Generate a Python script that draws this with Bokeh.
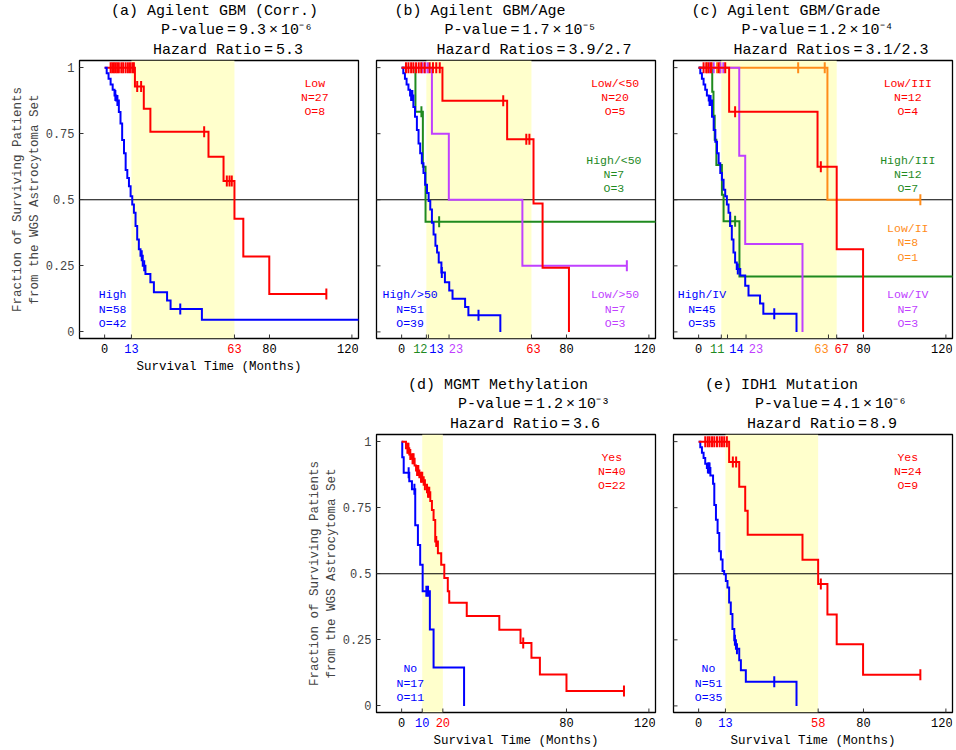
import math
from bokeh.plotting import figure
from bokeh.models import Range1d, FixedTicker, BoxAnnotation, Span, Title, Spacer
from bokeh.layouts import row, column
from bokeh.core.properties import value
from bokeh.embed import file_html
from bokeh.resources import INLINE

FONT = "Liberation Mono"
RED, BLUE, GREEN, PURPLE, ORANGE = "#FF0000", "#0000FF", "#1F8A1F", "#C040FF", "#FF8C1A"
SHADE = "#FFFFCC"

# ---------------- data (months, survival fraction) ----------------
# (a) Agilent GBM (Corr.)
a_high_t = [1.0, 1.9, 2.9, 3.9, 4.8, 5.6, 6.9, 7.7, 8.5, 9.4, 10.2, 11.0, 11.8, 12.6, 13.4, 14.2,
            15.0, 15.8, 16.6, 17.4, 18.5, 19.8, 22.2, 23.9, 30.3, 32.0, 47.2]
a_high_s = [0.979, 0.958, 0.936, 0.916, 0.895, 0.876, 0.832, 0.789, 0.726, 0.676, 0.613, 0.582, 0.551,
            0.513, 0.482, 0.451, 0.401, 0.350, 0.313, 0.288, 0.250, 0.219, 0.188, 0.150, 0.119, 0.087, 0.046]
a_high_cens = [5.2, 6.2, 18.0, 19.2, 36.7]
a_high_end = 126.0
a_low_t = [14.7, 19.0, 22.2, 50.4, 57.7, 63.0, 67.3, 79.9]
a_low_s = [0.929, 0.844, 0.757, 0.663, 0.571, 0.428, 0.285, 0.143]
a_low_cens = [2.9, 3.7, 4.5, 5.3, 6.1, 6.9, 8.1, 9.0, 10.2, 11.3, 12.3, 13.4, 14.2, 15.8, 17.7,
              48.3, 59.3, 60.6, 61.7, 107.6]
a_low_end = 107.6

# (b) Agilent GBM/Age
b_hi_old_t = [0.8, 1.6, 2.4, 3.3, 4.1, 5.7, 6.5, 7.4, 8.2, 9.0, 9.8, 10.6, 11.4, 12.3, 13.1, 13.9, 14.7,
              15.5, 16.4, 17.2, 18.0, 19.3, 21.0, 23.1, 24.7, 30.8, 32.4, 47.9]
b_hi_old_s = [0.979, 0.958, 0.936, 0.916, 0.895, 0.851, 0.814, 0.764, 0.713, 0.676, 0.638, 0.601, 0.557,
              0.526, 0.495, 0.463, 0.413, 0.369, 0.326, 0.300, 0.263, 0.225, 0.188, 0.157, 0.125, 0.094,
              0.063, 0.0]
b_hi_old_cens = [4.6, 5.2, 19.5, 37.3]
b_hi_old_end = 47.9
b_hi_young_t = [6.7, 10.3, 11.6]
b_hi_young_s = [0.833, 0.625, 0.417]
b_hi_young_cens = [9.6, 18.2]
b_hi_young_end = 126.0
b_lo_young_t = [19.8, 51.2, 64.0, 68.4, 81.2]
b_lo_young_s = [0.875, 0.729, 0.486, 0.243, 0.0]
b_lo_young_cens = [2.1, 3.3, 4.6, 5.7, 7.0, 8.3, 9.5, 11.1, 13.6, 15.2, 16.8, 18.5, 49.3, 60.5, 62.0]
b_lo_young_end = 81.2
b_lo_old_t = [14.7, 22.9, 58.6]
b_lo_old_s = [0.75, 0.5, 0.25]
b_lo_old_cens = [10.0, 11.5, 12.7, 109.3]
b_lo_old_end = 109.3

# (c) Agilent GBM/Grade
c_hi_iv_t = [0.8, 1.6, 2.4, 3.2, 4.0, 4.9, 6.5, 7.3, 8.1, 8.9, 9.7, 10.5, 11.3, 12.1, 12.9, 13.7, 14.5,
             15.3, 16.1, 16.9, 17.7, 18.5, 20.2, 22.6, 24.2, 29.8, 31.4, 47.5]
c_hi_iv_s = [0.979, 0.958, 0.936, 0.916, 0.895, 0.876, 0.814, 0.764, 0.720, 0.676, 0.638, 0.601, 0.576,
             0.538, 0.513, 0.482, 0.451, 0.401, 0.350, 0.300, 0.263, 0.238, 0.213, 0.175, 0.138, 0.107,
             0.069, 0.0]
c_hi_iv_cens = [5.3, 5.8, 19.0, 36.7]
c_hi_iv_end = 47.5
c_hi_iii_t = [6.6, 7.2, 7.8, 8.6, 11.3, 12.1, 19.8]
c_hi_iii_s = [0.909, 0.818, 0.727, 0.632, 0.519, 0.419, 0.210]
c_hi_iii_cens = [15.3, 17.7]
c_hi_iii_end = 126.0
c_lo_iii_t = [14.8, 57.7, 67.0, 79.8]
c_lo_iii_s = [0.833, 0.625, 0.313, 0.0]
c_lo_iii_cens = [2.4, 3.7, 4.8, 6.0, 9.7, 12.9, 17.7, 59.3]
c_lo_iii_end = 79.8
c_lo_ii_t = [62.5]
c_lo_ii_s = [0.5]
c_lo_ii_cens = [4.0, 6.5, 8.9, 10.5, 48.3, 61.2, 107.6]
c_lo_ii_end = 107.6
c_lo_iv_t = [19.7, 22.6, 50.4]
c_lo_iv_s = [0.667, 0.333, 0.0]
c_lo_iv_cens = [5.3, 7.3, 10.5, 12.0]
c_lo_iv_end = 50.4

# (d) MGMT Methylation
d_no_t = [0.3, 1.0, 3.7, 5.0, 6.6, 7.9, 9.0, 10.2, 13.7, 15.5, 30.3]
d_no_s = [0.941, 0.882, 0.850, 0.820, 0.684, 0.609, 0.534, 0.434, 0.289, 0.145, 0.0]
d_no_cens = [3.4, 6.2, 12.0, 12.8]
d_no_end = 30.3
d_yes_t = [2.1, 3.7, 4.7, 6.3, 7.0, 8.6, 10.7, 12.3, 13.9, 14.7, 15.5, 16.3, 17.6, 19.2, 20.7, 22.4,
           23.1, 31.6, 47.4, 57.7, 63.0, 67.1, 80.0]
d_yes_s = [0.975, 0.951, 0.935, 0.910, 0.891, 0.865, 0.837, 0.808, 0.775, 0.741, 0.703, 0.622, 0.578,
           0.534, 0.484, 0.434, 0.390, 0.340, 0.288, 0.238, 0.182, 0.119, 0.056]
d_yes_cens = [2.8, 3.3, 4.2, 5.3, 5.8, 7.5, 8.1, 9.4, 10.0, 11.3, 12.8, 13.4, 16.8, 59.0, 107.9]
d_yes_end = 107.9

# (e) IDH1 Mutation
e_no_t = [0.8, 1.6, 2.4, 3.2, 4.0, 5.7, 7.0, 7.6, 8.4, 9.2, 10.0, 10.8, 11.6, 12.4, 13.2, 14.0, 14.8,
          15.6, 16.4, 17.3, 18.1, 19.7, 20.5, 22.9, 47.5]
e_no_s = [0.979, 0.958, 0.938, 0.916, 0.900, 0.872, 0.841, 0.760, 0.704, 0.654, 0.585, 0.554, 0.510,
          0.498, 0.473, 0.448, 0.391, 0.348, 0.291, 0.248, 0.216, 0.173, 0.135, 0.091, 0.0]
e_no_cens = [4.5, 5.0, 5.3, 17.6, 18.6, 36.7]
e_no_end = 47.5
e_yes_t = [14.8, 19.7, 22.6, 23.8, 50.4, 58.0, 62.5, 67.0, 79.8]
e_yes_s = [0.923, 0.829, 0.738, 0.648, 0.553, 0.461, 0.346, 0.233, 0.118]
e_yes_cens = [3.2, 4.4, 5.3, 6.5, 7.6, 8.9, 10.2, 11.3, 12.4, 13.7, 16.6, 18.2, 59.3, 107.6]
e_yes_end = 107.6

# shaded median intervals
a_shade = (13, 63)
b_shade = (12, 63)
c_shade = (11, 67)
d_shade = (10, 20)
e_shade = (13, 58)

# group annotations
a_notes = ["Low\nN=27\nO=8", "High\nN=58\nO=42"]
b_notes = ["Low/<50\nN=20\nO=5", "High/<50\nN=7\nO=3", "High/>50\nN=51\nO=39", "Low/>50\nN=7\nO=3"]
c_notes = ["Low/III\nN=12\nO=4", "High/III\nN=12\nO=7", "Low/II\nN=8\nO=1", "High/IV\nN=45\nO=35",
           "Low/IV\nN=7\nO=3"]
d_notes = ["Yes\nN=40\nO=22", "No\nN=17\nO=11"]
e_notes = ["Yes\nN=24\nO=9", "No\nN=51\nO=35"]

# median ticks (coloured tick labels)
a_medians = [13, 63]
b_medians = [12, 13, 23, 63]
c_medians = [11, 14, 23, 63, 67]
d_medians = [10, 20]
e_medians = [13, 58]
plain_ticks = [0, 80, 120]
y_ticks = [0, 0.25, 0.5, 0.75, 1]
y_tick_labels = ["0", "0.25", "0.5", "0.75", "1"]

a_titles = ["(a) Agilent GBM (Corr.)", "P-value\u2009=\u20099.3\u2009\u00d7\u200910\u207b\u2076", "Hazard Ratio\u2009=\u20095.3"]
b_titles = ["(b) Agilent GBM/Age", "P-value\u2009=\u20091.7\u2009\u00d7\u200910\u207b\u2075", "Hazard Ratios\u2009=\u20093.9/2.7"]
c_titles = ["(c) Agilent GBM/Grade", "P-value\u2009=\u20091.2\u2009\u00d7\u200910\u207b\u2074", "Hazard Ratios\u2009=\u20093.1/2.3"]
d_titles = ["(d) MGMT Methylation", "P-value\u2009=\u20091.2\u2009\u00d7\u200910\u207b\u00b3", "Hazard Ratio\u2009=\u20093.6"]
e_titles = ["(e) IDH1 Mutation", "P-value\u2009=\u20094.1\u2009\u00d7\u200910\u207b\u2076", "Hazard Ratio\u2009=\u20098.9"]

X_LABEL = "Survival Time (Months)"
Y_LABEL = "Fraction of Surviving Patients\nfrom the WGS Astrocytoma Set"

# ---------------- helpers ----------------
FW, FH = 279, 278      # plot frame size (px)
BB = 5                 # bottom border of the main figure (room for the "0" y label)
SH = 31                # height of the strip holding the x tick labels / x title
XMIN, XMAX = -12.2, 123.2
YMIN, YMAX = -0.025, 1.027
TICK_COL = "#333333"


def step_path(t, s, end):
    xs, ys, prev = [0.0], [1.0], 1.0
    for ti, si in zip(t, s):
        xs += [ti, ti]
        ys += [prev, si]
        prev = si
    if end > xs[-1]:
        xs.append(end)
        ys.append(prev)
    return xs, ys


def surv_at(t, s, x):
    v = 1.0
    for ti, si in zip(t, s):
        if ti <= x:
            v = si
        else:
            break
    return v


def make_main(curves, shade, notes, medians, titles, show_y, left, right):
    p = figure(frame_width=FW, frame_height=FH, x_range=Range1d(XMIN, XMAX),
               y_range=Range1d(YMIN, YMAX), output_backend="svg", toolbar_location=None,
               title=None, min_border_left=left, min_border_right=right,
               min_border_top=0, min_border_bottom=BB)
    p.grid.visible = False
    p.outline_line_color = "black"
    p.outline_line_width = 1.3
    p.background_fill_color = "white"
    p.xaxis.visible = False

    p.add_layout(BoxAnnotation(left=shade[0], right=shade[1], fill_color=SHADE, fill_alpha=1.0,
                               line_color=None, level="underlay"))
    p.add_layout(Span(location=0.5, dimension="width", line_color="black", line_width=1,
                      level="underlay"))

    for (t, s, cens, end, color) in curves:
        xs, ys = step_path(t, s, end)
        p.line(xs, ys, line_color=color, line_width=2, line_join="miter")
        cy = [surv_at(t, s, c) for c in cens]
        p.scatter(cens, cy, marker="dash", angle=math.pi / 2, size=11, line_color=color,
                  line_width=2)

    for (txt, color, nx, ny) in notes:
        p.text([nx], [ny], text=[txt], text_color=color, text_font=value(FONT),
               text_font_size="11.5px", text_align="center", text_baseline="top",
               text_line_height=1.1)

    # inward x ticks (half of each dash is clipped away by the frame)
    xt = plain_ticks + [m[0] for m in medians]
    p.scatter(xt, [YMIN] * len(xt), marker="dash", angle=math.pi / 2, size=8,
              line_color=TICK_COL, line_width=1)

    ya = p.yaxis[0]
    if show_y:
        ya.ticker = FixedTicker(ticks=y_ticks)
        ya.major_label_overrides = {float(v): lab for v, lab in zip(y_ticks, y_tick_labels)}
        ya.major_tick_in = 4
        ya.major_tick_out = 0
        ya.minor_tick_line_color = None
        ya.axis_line_color = "black"
        ya.major_tick_line_color = TICK_COL
        ya.major_label_text_font = FONT
        ya.major_label_text_font_size = "12px"
        ya.major_label_standoff = 5
        ya.axis_label = Y_LABEL
        ya.axis_label_text_font = FONT
        ya.axis_label_text_font_size = "12.5px"
        ya.axis_label_text_font_style = "normal"
        ya.axis_label_standoff = 1
    else:
        ya.visible = False
        p.scatter([XMIN] * len(y_ticks), y_ticks, marker="dash", size=8,
                  line_color=TICK_COL, line_width=1)

    # title block: lines 2-3 indented, whole block centred
    lines = [titles[0], "\u00a0" * 4 + titles[1], "\u00a0" * 4 + titles[2]]
    n = max(len(l) for l in lines)
    lines = [l + "\u00a0" * (n - len(l)) for l in lines]
    for i, l in enumerate(reversed(lines)):
        p.add_layout(Title(text=l, align="center", text_font=FONT, text_font_size="15px",
                           text_font_style="normal", text_color="black",
                           standoff=3 if i == 0 else 0), "above")
    return p


def make_strip(x_range, medians, left, right, show_xlabel):
    s = figure(frame_width=FW, frame_height=SH, x_range=x_range,
               y_range=Range1d(0, SH), output_backend="svg", toolbar_location=None,
               title=None, x_axis_location=None, y_axis_location=None, min_border=0,
               min_border_left=left, min_border_right=right, min_border_top=0,
               min_border_bottom=0)
    s.grid.visible = False
    s.outline_line_color = None
    tx = plain_ticks + [m[0] for m in medians]
    tc = ["black"] * len(plain_ticks) + [m[1] for m in medians]
    to = [0, 0, -4] + [m[2] for m in medians]   # keep "120" inside the frame
    s.text(x=tx, y=[SH] * len(tx), text=[str(v) for v in tx], text_color=tc, x_offset=to,
           text_font=value(FONT), text_font_size="12px", text_align="center",
           text_baseline="top")
    if show_xlabel:
        s.text(x=[(XMIN + XMAX) / 2], y=[SH - 23], text=[X_LABEL], text_color="black",
               text_font=value(FONT), text_font_size="12.5px", text_align="center",
               text_baseline="middle")
    return s


def panel(curves, shade, notes, medians, titles, show_y, show_xlabel, left, right):
    main = make_main(curves, shade, notes, medians, titles, show_y, left, right)
    strip = make_strip(main.x_range, medians, left, right, show_xlabel)
    return column(main, strip)


LA, RA = 79, 8     # panels with a y axis
LB, RB = 10, 8     # middle column
LC, RC = 10, 2     # right column

pa = panel(
    [(a_low_t, a_low_s, a_low_cens, a_low_end, RED),
     (a_high_t, a_high_s, a_high_cens, a_high_end, BLUE)],
    a_shade,
    [(a_notes[0], RED, 102, 0.965), (a_notes[1], BLUE, 3.9, 0.165)],
    [(a_medians[0], BLUE, 0), (a_medians[1], RED, 0)],
    a_titles, True, True, LA, RA)

pb = panel(
    [(b_hi_young_t, b_hi_young_s, b_hi_young_cens, b_hi_young_end, GREEN),
     (b_lo_old_t, b_lo_old_s, b_lo_old_cens, b_lo_old_end, PURPLE),
     (b_hi_old_t, b_hi_old_s, b_hi_old_cens, b_hi_old_end, BLUE),
     (b_lo_young_t, b_lo_young_s, b_lo_young_cens, b_lo_young_end, RED)],
    b_shade,
    [(b_notes[0], RED, 103.6, 0.965), (b_notes[1], GREEN, 103, 0.675),
     (b_notes[2], BLUE, 4.1, 0.165), (b_notes[3], PURPLE, 103.6, 0.165)],
    [(b_medians[0], GREEN, -6), (b_medians[1], BLUE, 8), (b_medians[2], PURPLE, 7),
     (b_medians[3], RED, 2)],
    b_titles, False, False, LB, RB)

pc = panel(
    [(c_lo_ii_t, c_lo_ii_s, c_lo_ii_cens, c_lo_ii_end, ORANGE),
     (c_hi_iii_t, c_hi_iii_s, c_hi_iii_cens, c_hi_iii_end, GREEN),
     (c_lo_iv_t, c_lo_iv_s, c_lo_iv_cens, c_lo_iv_end, PURPLE),
     (c_hi_iv_t, c_hi_iv_s, c_hi_iv_cens, c_hi_iv_end, BLUE),
     (c_lo_iii_t, c_lo_iii_s, c_lo_iii_cens, c_lo_iii_end, RED)],
    c_shade,
    [(c_notes[0], RED, 101.5, 0.965), (c_notes[1], GREEN, 101.5, 0.675),
     (c_notes[2], ORANGE, 101.5, 0.416), (c_notes[3], BLUE, 1.6, 0.165),
     (c_notes[4], PURPLE, 101.5, 0.165)],
    [(c_medians[0], GREEN, -4), (c_medians[1], BLUE, 9), (c_medians[2], PURPLE, 10),
     (c_medians[3], ORANGE, -7), (c_medians[4], RED, 5)],
    c_titles, False, False, LC, RC)

pd_ = panel(
    [(d_no_t, d_no_s, d_no_cens, d_no_end, BLUE),
     (d_yes_t, d_yes_s, d_yes_cens, d_yes_end, RED)],
    d_shade,
    [(d_notes[0], RED, 102, 0.965), (d_notes[1], BLUE, 4.2, 0.165)],
    [(d_medians[0], BLUE, 0), (d_medians[1], RED, 0)],
    d_titles, True, True, LA, RA)

pe = panel(
    [(e_no_t, e_no_s, e_no_cens, e_no_end, BLUE),
     (e_yes_t, e_yes_s, e_yes_cens, e_yes_end, RED)],
    e_shade,
    [(e_notes[0], RED, 101.5, 0.965), (e_notes[1], BLUE, 4.8, 0.165)],
    [(e_medians[0], BLUE, 0), (e_medians[1], RED, 0)],
    e_titles, False, True, LC, RC)

# spacer so that (d) sits under (b) and (e) under (c)
spacer = Spacer(width=LA + FW + RA + LB - LA, height=10)
layout = column(row(pa, pb, pc), row(spacer, pd_, pe))

with open("out.html", "w") as f:
    f.write(file_html(layout, INLINE))
